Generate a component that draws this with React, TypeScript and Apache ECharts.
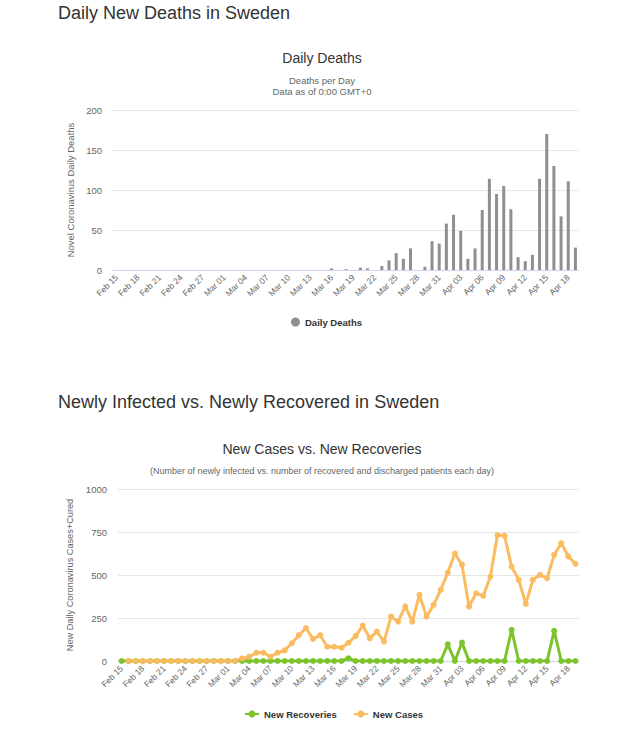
import React, { useEffect, useRef } from "react";
import * as echarts from "echarts";

const categories = [
  "Feb 15", "Feb 16", "Feb 17", "Feb 18", "Feb 19", "Feb 20", "Feb 21", "Feb 22", "Feb 23", "Feb 24",
  "Feb 25", "Feb 26", "Feb 27", "Feb 28", "Feb 29",
  "Mar 01", "Mar 02", "Mar 03", "Mar 04", "Mar 05", "Mar 06", "Mar 07", "Mar 08", "Mar 09", "Mar 10",
  "Mar 11", "Mar 12", "Mar 13", "Mar 14", "Mar 15", "Mar 16", "Mar 17", "Mar 18", "Mar 19", "Mar 20",
  "Mar 21", "Mar 22", "Mar 23", "Mar 24", "Mar 25", "Mar 26", "Mar 27", "Mar 28", "Mar 29", "Mar 30",
  "Mar 31",
  "Apr 01", "Apr 02", "Apr 03", "Apr 04", "Apr 05", "Apr 06", "Apr 07", "Apr 08", "Apr 09", "Apr 10",
  "Apr 11", "Apr 12", "Apr 13", "Apr 14", "Apr 15", "Apr 16", "Apr 17", "Apr 18", "Apr 19",
];

const dailyDeaths = [
  0, 0, 0, 0, 0, 0, 0, 0, 0, 0,
  0, 0, 0, 0, 0,
  0, 0, 0, 0, 0, 0, 0, 0, 0, 0,
  0, 0, 0, 0, 0, 2, 0, 1, 0, 3,
  2, 0, 5, 12, 21, 14, 27, 0, 4, 36,
  33,
  58, 69, 49, 14, 27, 75, 114, 95, 105, 76,
  16, 11, 19, 114, 170, 130, 67, 111, 28,
];

const newRecoveries = [
  0, 0, 0, 0, 0, 0, 0, 0, 0, 0,
  0, 0, 0, 0, 0,
  0, 0, 0, 0, 0, 0, 0, 0, 0, 0,
  0, 0, 0, 0, 0, 0, 0, 16, 0, 0,
  0, 0, 0, 0, 0, 0, 0, 0, 0, 0,
  0,
  97, 0, 107, 0, 0, 0, 0, 0, 0, 181,
  0, 0, 0, 0, 0, 175, 0, 0, 0,
];

const newCases = [
  null, 0, 0, 0, 0, 0, 0, 0, 0, 0,
  0, 0, 0, 0, 0,
  0, 0, 15, 25, 48, 48, 25, 48, 62, 103,
  150, 192, 128, 150, 83, 83, 77, 106, 145, 206,
  132, 171, 113, 258, 229, 318, 229, 384, 258, 326,
  413,
  514, 625, 560, 316, 394, 379, 491, 732, 728, 549,
  472, 332, 472, 501, 481, 617, 685, 608, 565,
];

const deathsAxis = { min: 0, max: 200, interval: 50 };
const casesAxis = { min: 0, max: 1000, interval: 250 };

const FONT = "'Liberation Sans', Arial, Helvetica, sans-serif";
const GRAY_BAR = "#8f8f8f";
const GREEN = "#7cc42b";
const ORANGE = "#fbbb60";

function textEl(text: string, x: number, y: number, size: number, color: string, align: string) {
  return {
    type: "text",
    x,
    y,
    style: {
      text,
      fill: color,
      fontSize: size,
      fontFamily: FONT,
      align,
      verticalAlign: "middle",
    },
  };
}

function xAxisCfg(gridIndex: number) {
  return {
    gridIndex,
    type: "category",
    data: categories,
    boundaryGap: true,
    axisLine: { show: true, lineStyle: { color: "#ccd6eb", width: 1 } },
    axisTick: { show: false },
    axisLabel: {
      interval: 2,
      rotate: 45,
      fontSize: 8.5,
      color: "#666",
      margin: 6,
      fontFamily: FONT,
    },
    splitLine: { show: false },
  };
}

export default function App() {
  const ref = useRef<HTMLDivElement>(null);

  useEffect(() => {
    if (!ref.current) return;
    const chart = echarts.init(ref.current, undefined, { renderer: "svg" });
    const option = {
      animation: false,
      backgroundColor: "#ffffff",
      textStyle: { fontFamily: FONT },
      graphic: [
        textEl("Daily New Deaths in Sweden", 58, 13, 18, "#333333", "left"),
        textEl("Daily Deaths", 322, 58, 14, "#333333", "center"),
        textEl("Deaths per Day", 322, 80, 9.5, "#666666", "center"),
        textEl("Data as of 0:00 GMT+0", 322, 91, 9.5, "#666666", "center"),
        textEl("Newly Infected vs. Newly Recovered in Sweden", 58, 402, 18, "#333333", "left"),
        textEl("New Cases vs. New Recoveries", 322, 449, 14, "#333333", "center"),
        textEl(
          "(Number of newly infected vs. number of recovered and discharged patients each day)",
          322,
          471,
          9,
          "#666666",
          "center"
        ),
      ],
      grid: [
        { left: 113, right: 61, top: 110, height: 160 },
        { left: 118, right: 61, top: 489, height: 172 },
      ],
      xAxis: [xAxisCfg(0), xAxisCfg(1)],
      yAxis: [
        {
          gridIndex: 0,
          type: "value",
          min: deathsAxis.min,
          max: deathsAxis.max,
          interval: deathsAxis.interval,
          name: "Novel Coronavirus Daily Deaths",
          nameLocation: "middle",
          nameGap: 33,
          nameTextStyle: { fontSize: 9.5, color: "#666", fontFamily: FONT },
          axisLine: { show: false },
          axisTick: { show: false },
          axisLabel: { fontSize: 9.5, color: "#666", margin: 11, fontFamily: FONT },
          splitLine: { lineStyle: { color: "#e6e6e6", width: 1 } },
        },
        {
          gridIndex: 1,
          type: "value",
          min: casesAxis.min,
          max: casesAxis.max,
          interval: casesAxis.interval,
          name: "New Daily Coronavirus Cases+Cured",
          nameLocation: "middle",
          nameGap: 38,
          nameTextStyle: { fontSize: 9.2, color: "#666", fontFamily: FONT },
          axisLine: { show: false },
          axisTick: { show: false },
          axisLabel: {
            fontSize: 9.5,
            color: "#666",
            margin: 11,
            fontFamily: FONT,
            formatter: (v: number) => String(v),
          },
          splitLine: { lineStyle: { color: "#e6e6e6", width: 1 } },
        },
      ],
      legend: [
        {
          data: ["Daily Deaths"],
          left: 286,
          top: 312,
          icon: "circle",
          itemWidth: 9,
          itemHeight: 9,
          textStyle: { fontSize: 9.5, fontWeight: "bold", color: "#333", fontFamily: FONT },
        },
        {
          data: ["New Recoveries", "New Cases"],
          left: 239,
          top: 704,
          itemWidth: 14,
          itemHeight: 9,
          itemGap: 16,
          textStyle: { fontSize: 9.5, fontWeight: "bold", color: "#333", fontFamily: FONT },
        },
      ],
      series: [
        {
          name: "Daily Deaths",
          type: "bar",
          xAxisIndex: 0,
          yAxisIndex: 0,
          data: dailyDeaths,
          barWidth: 3,
          itemStyle: { color: GRAY_BAR },
        },
        {
          name: "New Recoveries",
          type: "line",
          xAxisIndex: 1,
          yAxisIndex: 1,
          data: newRecoveries,
          symbol: "circle",
          symbolSize: 6,
          showAllSymbol: true,
          smooth: false,
          lineStyle: { width: 3, color: GREEN },
          itemStyle: { color: GREEN },
        },
        {
          name: "New Cases",
          type: "line",
          xAxisIndex: 1,
          yAxisIndex: 1,
          data: newCases,
          symbol: "circle",
          symbolSize: 6,
          showAllSymbol: true,
          smooth: false,
          lineStyle: { width: 3, color: ORANGE },
          itemStyle: { color: ORANGE },
        },
      ],
    };
    chart.setOption(option as any);
    return () => {
      chart.dispose();
    };
  }, []);

  return (
    <div
      ref={ref}
      style={{ position: "absolute", left: 0, top: 0, width: 640, height: 740, background: "#fff" }}
    />
  );
}
